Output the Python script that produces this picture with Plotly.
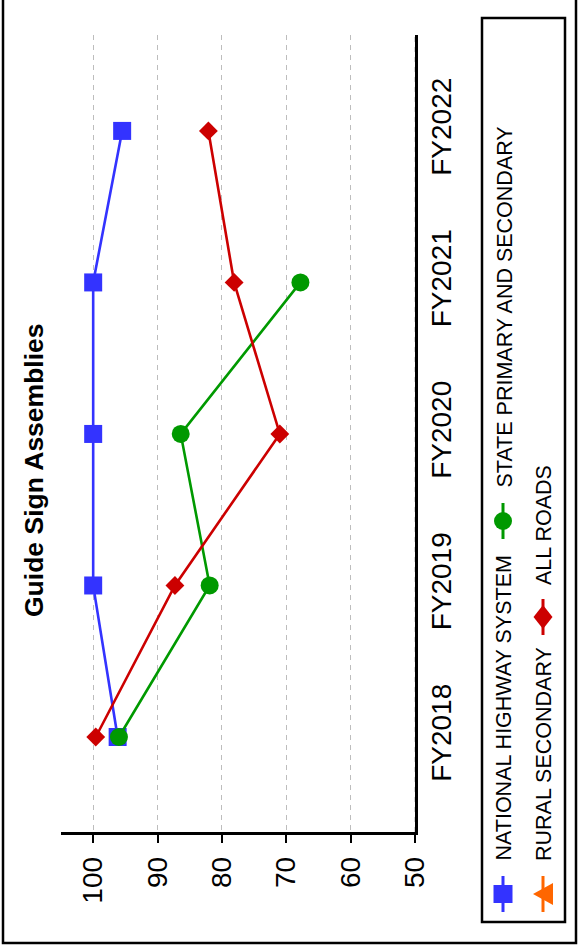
import plotly.graph_objects as go

# ---- data ----
categories = ["FY2018", "FY2019", "FY2020", "FY2021", "FY2022"]
nhs = [96.2, 100, 100, 100, 95.5]
state_primary = [96.0, 81.9, 86.4, 67.8, None]
rural_secondary = [None, None, None, None, None]
all_roads = [99.6, 87.3, 71.0, 78.1, 82.1]
value_ticks = [100, 90, 80, 70, 60, 50]

series_names = ["NATIONAL HIGHWAY SYSTEM", "STATE PRIMARY AND SECONDARY",
                "RURAL SECONDARY", "ALL ROADS"]
series_values = [nhs, state_primary, rural_secondary, all_roads]
colors = ["#3333FF", "#009900", "#FF6600", "#CC0000"]
symbols = ["square", "circle", "triangle-up", "diamond"]
msizes = [18, 18, 18, 14.5]

W, H = 586, 951
L, R, T, B = 61, 415, 35, 832
FONT = "Liberation Sans, Arial, sans-serif"
GRID = "#bdbdbd"

def px(xp):
    return (xp - L) / (R - L)

def py(yp):
    return (B - yp) / (B - T)

fig = go.Figure()
cat_pos = list(range(len(categories)))
for name, vals, c, s, ms in zip(series_names, series_values, colors, symbols, msizes):
    fig.add_trace(go.Scatter(
        x=vals, y=cat_pos, mode="lines+markers", name=name,
        line=dict(color=c, width=2.6),
        marker=dict(symbol=s, size=ms, color=c, line=dict(width=0)),
        showlegend=False, connectgaps=False,
    ))

fig.update_xaxes(
    range=[105, 50], tickvals=value_ticks, ticktext=[str(v) for v in value_ticks],
    tickangle=-90, tickfont=dict(size=28, color="black", family=FONT),
    showline=True, linecolor="black", linewidth=2.5,
    ticks="outside", ticklen=8, tickwidth=2, tickcolor="black",
    showgrid=True, gridcolor=GRID, gridwidth=1.4, griddash="5px,5px",
    zeroline=False, ticklabelstandoff=3,
)
fig.update_yaxes(
    range=[-0.627, 4.633], tickvals=cat_pos, ticktext=categories,
    side="right", tickangle=-90, tickfont=dict(size=28, color="black", family=FONT),
    showline=True, linecolor="black", linewidth=2.5, ticks="",
    showgrid=False, zeroline=False, ticklabelstandoff=0,
)

shapes = []
shapes.append(dict(type="line", xref="x", yref="paper", x0=50, x1=50, y0=0, y1=1,
                   line=dict(color=GRID, width=1.2, dash="5px,5px"), layer="above"))
shapes.append(dict(type="rect", xref="paper", yref="paper",
                   x0=px(3), x1=px(576), y0=py(943), y1=py(-5),
                   line=dict(color="black", width=2.5)))
shapes.append(dict(type="rect", xref="paper", yref="paper",
                   x0=px(482), x1=px(565), y0=py(922), y1=py(18),
                   line=dict(color="black", width=2.5)))

annotations = []
annotations.append(dict(text="<b>Guide Sign Assemblies</b>", textangle=-90,
                        xref="paper", yref="paper", x=px(34), y=py(470),
                        xanchor="center", yanchor="middle", showarrow=False,
                        font=dict(size=26.5, color="black", family=FONT)))

legend_pos = [(503, 894, 863), (503, 521, 490), (543, 894, 863), (543, 617, 587)]
for (cx, cy, ty), name, c, s in zip(legend_pos, series_names, colors, symbols):
    shapes.append(dict(type="line", xref="paper", yref="paper",
                       x0=px(cx), x1=px(cx), y0=py(cy + 18), y1=py(cy - 18),
                       line=dict(color=c, width=3)))
    if s == "square":
        shapes.append(dict(type="rect", xref="paper", yref="paper",
                           x0=px(cx - 9.5), x1=px(cx + 9.5), y0=py(cy + 9), y1=py(cy - 9),
                           fillcolor=c, line=dict(width=0)))
    elif s == "circle":
        shapes.append(dict(type="circle", xref="paper", yref="paper",
                           x0=px(cx - 9), x1=px(cx + 9), y0=py(cy + 9), y1=py(cy - 9),
                           fillcolor=c, line=dict(width=0)))
    elif s == "triangle-up":
        path = "M {} {} L {} {} L {} {} Z".format(
            px(cx - 10), py(cy), px(cx + 10), py(cy - 11), px(cx + 10), py(cy + 11))
        shapes.append(dict(type="path", xref="paper", yref="paper", path=path,
                           fillcolor=c, line=dict(width=0)))
    elif s == "diamond":
        path = "M {} {} L {} {} L {} {} L {} {} Z".format(
            px(cx - 9.5), py(cy), px(cx), py(cy - 12), px(cx + 9.5), py(cy), px(cx), py(cy + 12))
        shapes.append(dict(type="path", xref="paper", yref="paper", path=path,
                           fillcolor=c, line=dict(width=0)))
    annotations.append(dict(text=name, textangle=-90, xref="paper", yref="paper",
                            x=px(cx + 1), y=py(ty), xanchor="center", yanchor="bottom",
                            showarrow=False,
                            font=dict(size=21.5, color="black", family=FONT)))

fig.update_layout(
    width=W, height=H,
    margin=dict(l=L, r=W - R, t=T, b=H - B, pad=0),
    paper_bgcolor="white", plot_bgcolor="white",
    shapes=shapes, annotations=annotations, showlegend=False,
    font=dict(family=FONT, color="black"),
)

fig.write_html("out.html", config={"displayModeBar": False},
               post_script="document.body.style.margin='0';")
